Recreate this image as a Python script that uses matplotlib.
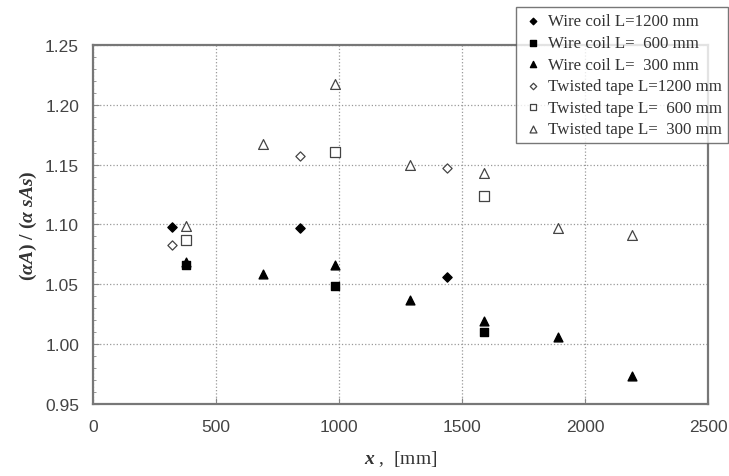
import matplotlib
matplotlib.use("Agg")
import matplotlib.pyplot as plt
from matplotlib.ticker import MultipleLocator

# Data
x_wc1200 = [320, 840, 1440]
y_wc1200 = [1.098, 1.097, 1.056]
x_wc600 = [380, 985, 1590]
y_wc600 = [1.066, 1.049, 1.010]
x_wc300 = [380, 690, 985, 1290, 1590, 1890, 2190]
y_wc300 = [1.069, 1.059, 1.066, 1.037, 1.019, 1.006, 0.973]
x_tt1200 = [320, 840, 1440]
y_tt1200 = [1.083, 1.157, 1.147]
x_tt600 = [380, 985, 1590]
y_tt600 = [1.087, 1.161, 1.124]
x_tt300 = [380, 690, 985, 1290, 1590, 1890, 2190]
y_tt300 = [1.099, 1.167, 1.217, 1.150, 1.143, 1.097, 1.091]

labels = ["Wire coil L=1200 mm", "Wire coil L=  600 mm", "Wire coil L=  300 mm",
          "Twisted tape L=1200 mm", "Twisted tape L=  600 mm", "Twisted tape L=  300 mm"]

plt.rcParams['mathtext.fontset'] = 'custom'
plt.rcParams['mathtext.rm'] = 'Liberation Serif:bold'
plt.rcParams['mathtext.it'] = 'Liberation Serif:italic:bold'

fig = plt.figure(figsize=(7.29, 4.77), dpi=100)
ax = fig.add_axes([93/729, 1 - 405/477, 615/729, 359/477])

gris = '#444444'
ax.scatter(x_wc1200, y_wc1200, marker='D', s=22, c='black', label=labels[0], zorder=3)
ax.scatter(x_wc600, y_wc600, marker='s', s=36, c='black', label=labels[1], zorder=3)
ax.scatter(x_wc300, y_wc300, marker='^', s=40, c='black', label=labels[2], zorder=3)
ax.scatter(x_tt1200, y_tt1200, marker='D', s=22, facecolors='white', edgecolors=gris, linewidths=0.9, label=labels[3], zorder=3)
ax.scatter(x_tt600, y_tt600, marker='s', s=50, facecolors='white', edgecolors=gris, linewidths=0.9, label=labels[4], zorder=3)
ax.scatter(x_tt300, y_tt300, marker='^', s=50, facecolors='white', edgecolors=gris, linewidths=0.9, label=labels[5], zorder=3)

ax.set_xlim(0, 2500)
ax.set_ylim(0.95, 1.25)
ax.xaxis.set_major_locator(MultipleLocator(500))
ax.yaxis.set_major_locator(MultipleLocator(0.05))
ax.yaxis.set_minor_locator(MultipleLocator(0.01))
ax.yaxis.set_major_formatter(matplotlib.ticker.FormatStrFormatter('%.2f'))

ax.grid(True, which='major', color='#999999', linestyle=':', linewidth=0.9)
ax.tick_params(which='both', direction='in', colors='#888888', labelcolor='#444444', labelsize=12.5)
ax.tick_params(which='major', length=4)
ax.tick_params(which='minor', length=2)
ax.tick_params(axis='x', pad=11)
ax.tick_params(axis='y', pad=10)
for lab in ax.get_xticklabels() + ax.get_yticklabels():
    lab.set_family('Liberation Sans')
for s in ax.spines.values():
    s.set_color('#777777')
    s.set_linewidth(1.6)

ax.set_xlabel(r'$x$ ,  [mm]', fontsize=14, family='Liberation Serif', color='#333333', labelpad=10)
ax.set_ylabel(r'$(\alpha A)\ /\ (\alpha\ sAs)$', fontsize=14, color='#333333', labelpad=4)

leg = fig.legend(loc='upper left', bbox_to_anchor=(508/729, 1.0),
                 prop={'family': 'Liberation Serif', 'size': 12.2},
                 frameon=True, fancybox=False, edgecolor='#555555',
                 labelspacing=0.33, handletextpad=0.3, handlelength=1.2,
                 borderpad=0.35, markerscale=0.7, labelcolor='#333333')
leg.get_frame().set_linewidth(1.0)

plt.savefig("out.png", dpi=100)
